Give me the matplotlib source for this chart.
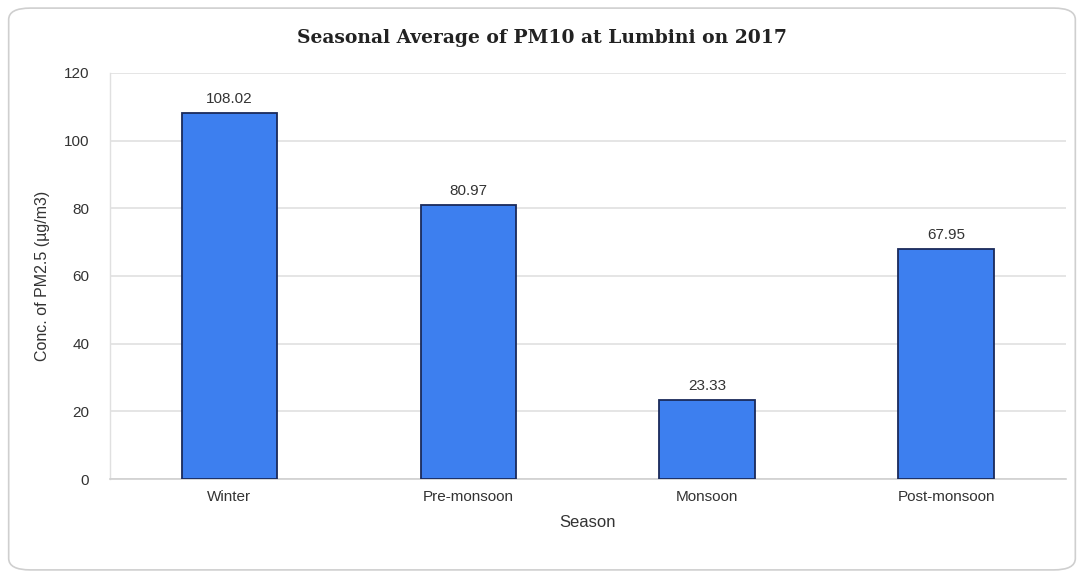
import matplotlib

matplotlib.use("Agg")
import matplotlib.pyplot as plt
from matplotlib.patches import FancyBboxPatch

seasons = ["Winter", "Pre-monsoon", "Monsoon", "Post-monsoon"]
pm_values = [108.02, 80.97, 23.33, 67.95]
y_ticks = [0, 20, 40, 60, 80, 100, 120]

BAR_COLOR = "#3d7fef"
EDGE_COLOR = "#1a2a5a"
TEXT_COLOR = "#333333"

plt.rcParams["font.family"] = ["Liberation Sans", "DejaVu Sans"]

fig = plt.figure(figsize=(10.84, 5.78), dpi=100)

# rounded light frame around the whole chart (drawn behind the axes)
frame = FancyBboxPatch((0.008, 0.014), 0.984, 0.972,
                       boxstyle="round,pad=0,rounding_size=0.02",
                       transform=fig.transFigure, facecolor="white",
                       edgecolor="#cfcfcf", linewidth=1.2, zorder=-5)
fig.patches.append(frame)

ax = fig.add_axes([0.1015, 0.171, 0.8815, 0.703])
ax.set_zorder(2)
ax.set_facecolor("none")

x = range(len(seasons))
bars = ax.bar(x, pm_values, width=0.4, color=BAR_COLOR,
              edgecolor=EDGE_COLOR, linewidth=1.3, zorder=3)

for b, v in zip(bars, pm_values):
    ax.text(b.get_x() + b.get_width() / 2, v + 2.2, f"{v:.2f}",
            ha="center", va="bottom", fontsize=11, color=TEXT_COLOR)

ax.set_xlim(-0.5, len(seasons) - 0.5)
ax.set_ylim(0, 120)
ax.set_yticks(y_ticks)
ax.set_xticks(list(x))
ax.set_xticklabels(seasons)
ax.tick_params(axis="both", length=0, labelsize=11, colors=TEXT_COLOR)
ax.tick_params(axis="y", pad=15)
ax.tick_params(axis="x", pad=8)

ax.grid(axis="y", color="#e0e0e0", linewidth=1.2, zorder=0)
for side in ["top", "right"]:
    ax.spines[side].set_visible(False)
ax.spines["left"].set_color("#e0e0e0")
ax.spines["left"].set_linewidth(1.0)
ax.spines["bottom"].set_color("#d0d0d0")
ax.spines["bottom"].set_linewidth(1.2)

ax.set_xlabel("Season", fontsize=12, color=TEXT_COLOR, labelpad=8)
ax.set_ylabel("Conc. of PM2.5 (µg/m3)", fontsize=11.5, color=TEXT_COLOR,
              labelpad=10)

fig.text(0.5, 0.935, "Seasonal Average of PM10 at Lumbini on 2017",
         ha="center", va="center", fontsize=13.5, fontweight="bold",
         family="DejaVu Serif", color="#222222")

fig.savefig("out.png", dpi=100)
